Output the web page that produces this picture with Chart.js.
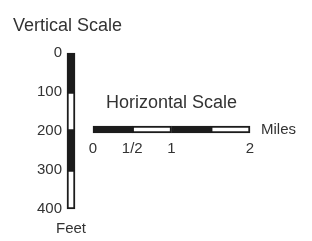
<!DOCTYPE html>
<html>
<head>
<meta charset="utf-8">
<script src="https://cdn.jsdelivr.net/npm/chart.js@4.4.1/dist/chart.umd.min.js"></script>
<style>
  html, body { margin: 0; padding: 0; background: #fff; }
  #wrap { position: relative; width: 312px; height: 241px; }
  #wrap canvas { position: absolute; left: 0; top: 0; }
</style>
</head>
<body>
<div id="wrap">
  <canvas id="feetChart" width="312" height="241"></canvas>
  <canvas id="milesChart" width="312" height="241"></canvas>
</div>
<script>
// Vertical scale, in feet
const feetTicks = [0, 100, 200, 300, 400];
const feetSegments = [[0, 100], [100, 200], [200, 300], [300, 400]];
const feetUnit = ['Feet'];

// Horizontal scale, in miles
const mileTicks = [0, 0.5, 1, 2];
const mileTickLabels = ['0', '1/2', '1', '2'];
const mileSegments = [[0, 0.5], [0.5, 1], [1, 1.5], [1.5, 2]];
const mileUnit = ['Miles'];

const ink = '#1c1c1c';
const textColor = '#333333';
const fills = [ink, '#ffffff', ink, '#ffffff'];

Chart.defaults.font.family = "'Liberation Sans', Arial, sans-serif";
Chart.defaults.color = textColor;

// one floating bar per segment, all drawn on the same category
function segmentDatasets(segments, thickness) {
    return segments.map((seg, i) => ({
        data: [seg],
        backgroundColor: fills[i],
        borderColor: ink,
        borderWidth: 2,
        borderSkipped: false,
        barThickness: thickness,
        grouped: false,
        clip: false
    }));
}

const noLines = {
    grid: { display: false, drawTicks: false },
    border: { display: false }
};

// vertical bar
new Chart(document.getElementById('feetChart'), {
    type: 'bar',
    data: {
        labels: feetUnit,
        datasets: segmentDatasets(feetSegments, 8)
    },
    options: {
        responsive: false,
        animation: false,
        layout: { padding: { left: 13, right: 0, top: 0, bottom: 4 } },
        plugins: {
            legend: { display: false },
            tooltip: { enabled: false },
            title: {
                display: true,
                text: 'Vertical Scale',
                align: 'start',
                color: textColor,
                font: { size: 18, weight: 'normal' },
                padding: { top: 15.7, bottom: 15.7 }
            }
        },
        scales: {
            x: {
                ...noLines,
                offset: false,
                afterFit: s => { s.height = 28; },
                ticks: { padding: 10.5, font: { size: 15 } }
            },
            y: {
                ...noLines,
                reverse: true,
                min: 0,
                max: 400,
                afterFit: s => { s.width = 58; },
                afterBuildTicks: axis => { axis.ticks = feetTicks.map(v => ({ value: v })); },
                ticks: { padding: 9, font: { size: 15 } }
            }
        }
    }
});

// horizontal bar
new Chart(document.getElementById('milesChart'), {
    type: 'bar',
    data: {
        labels: mileUnit,
        datasets: segmentDatasets(mileSegments, 7)
    },
    options: {
        indexAxis: 'y',
        responsive: false,
        animation: false,
        layout: { padding: { left: 93, right: 0, top: 85, bottom: 83 } },
        plugins: {
            legend: { display: false },
            tooltip: { enabled: false },
            title: {
                display: true,
                text: 'Horizontal Scale',
                fullSize: false,
                color: textColor,
                font: { size: 18, weight: 'normal' },
                padding: { top: 7.2, bottom: 9.7 }
            }
        },
        scales: {
            x: {
                ...noLines,
                min: 0,
                max: 2,
                afterFit: s => { s.height = 22.5; },
                afterBuildTicks: axis => { axis.ticks = mileTicks.map(v => ({ value: v })); },
                ticks: {
                    padding: 4.5,
                    autoSkip: false,
                    maxRotation: 0,
                    font: { size: 15 },
                    callback: value => mileTickLabels[mileTicks.indexOf(value)]
                }
            },
            y: {
                ...noLines,
                position: 'right',
                afterFit: s => { s.width = 62; },
                ticks: { padding: 11, font: { size: 15 } }
            }
        }
    }
});
</script>
</body>
</html>
